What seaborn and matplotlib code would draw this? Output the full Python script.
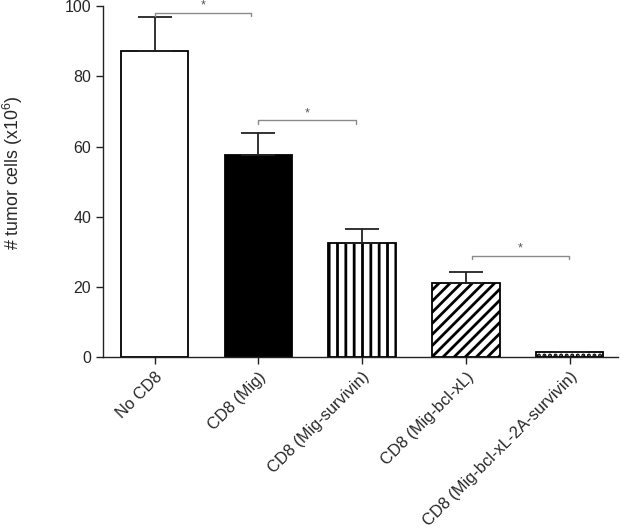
import matplotlib
matplotlib.use("Agg")
import matplotlib.pyplot as plt
import matplotlib.transforms as mtransforms
import seaborn as sns
import pandas as pd

categories = ["No CD8", "CD8 (Mig)", "CD8 (Mig-survivin)", "CD8 (Mig-bcl-xL)",
              "CD8 (Mig-bcl-xL-2A-survivin)"]
values = [87.3, 57.7, 32.4, 21.1, 1.4]
errors = [9.6, 6.2, 4.0, 3.3, 0.0]
fills = ["white", "black", "white", "white", "white"]
hatches = ["", "", "||", "///", "..."]
y_ticks = [0, 20, 40, 60, 80, 100]

# significance brackets: (start category position, end position, height)
sig_start = [0.0, 1.0, 3.06]
sig_end = [0.93, 1.94, 3.99]
sig_height = [98.1, 67.5, 28.9]

sns.set_style("ticks")
plt.rcParams["font.family"] = ["Liberation Sans", "DejaVu Sans"]
plt.rcParams["mathtext.fontset"] = "custom"
plt.rcParams["mathtext.rm"] = "Liberation Sans"
plt.rcParams["mathtext.it"] = "Liberation Sans"
plt.rcParams["hatch.linewidth"] = 2.0
plt.rcParams["hatch.color"] = "black"

df = pd.DataFrame({"group": categories, "value": values})

fig = plt.figure(figsize=(6.24, 5.29), dpi=100)
ax = fig.add_axes([0.165, 0.3246, 0.826, 0.664])

sns.barplot(data=df, x="group", y="value", hue="group", order=categories,
            hue_order=categories, palette=dict(zip(categories, fills)),
            edgecolor="black", linewidth=1.3, width=0.65, errorbar=None,
            legend=False, ax=ax, saturation=1)

for p, h in zip(ax.patches, hatches):
    if h:
        p.set_hatch(h)

centers = [p.get_x() + p.get_width() / 2 for p in ax.patches]
ax.errorbar(centers, values, yerr=[[0] * len(errors), errors], fmt="none",
            ecolor="#222222", elinewidth=1.3, capsize=12.5, capthick=1.3, zorder=1)

for x0, x1, h in zip(sig_start, sig_end, sig_height):
    ax.plot([x0, x0, x1, x1], [h - 1.0, h, h, h - 1.0], color="#8a8a8a",
            lw=1.0, clip_on=False)
    ax.text((x0 + x1) / 2, h + 0.3, "*", ha="center", va="bottom",
            fontsize=9, color="#555555")

ax.set_ylim(0, 100)
ax.set_xlim(-0.497, 4.47)
ax.set_yticks(y_ticks)
ax.set_yticklabels([str(t) for t in y_ticks], fontsize=11.5)
ax.set_xticks(range(len(categories)))
ax.set_xticklabels(categories, rotation=45, ha="right", rotation_mode="anchor",
                   fontsize=11.8)
offset = mtransforms.ScaledTranslation(10 / 100, 6 / 100, fig.dpi_scale_trans)
for lbl in ax.get_xticklabels():
    lbl.set_transform(lbl.get_transform() + offset)
ax.set_xlabel("")
ax.set_ylabel(r"# tumor cells (x10$^6$)", fontsize=12.8)
ax.yaxis.set_label_coords(-0.152, 0.525)
ax.tick_params(axis="both", direction="out", length=5, width=1.0, color="#222222")
for s in ["left", "bottom"]:
    ax.spines[s].set_color("#222222")
    ax.spines[s].set_linewidth(1.0)
sns.despine(ax=ax)

fig.savefig("out.png", dpi=100)
